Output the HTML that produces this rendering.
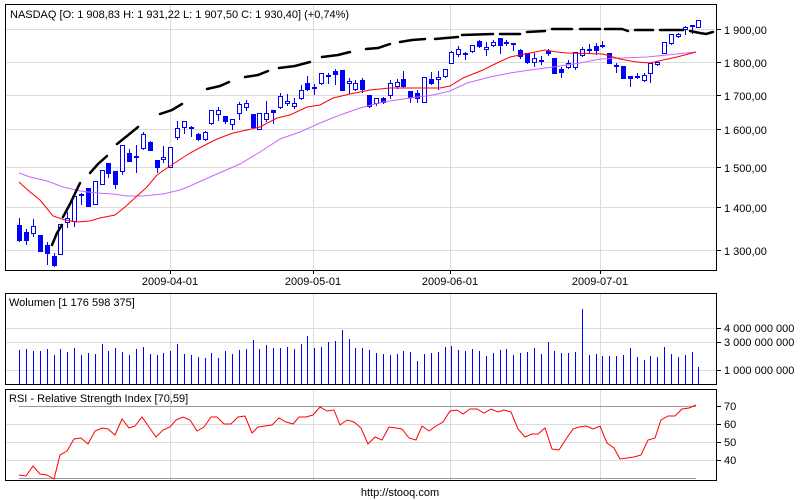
<!DOCTYPE html>
<html><head><meta charset="utf-8"><style>
html,body{margin:0;padding:0;background:#fff;}
svg{display:block;font-family:"Liberation Sans",Arial,sans-serif;font-size:11px;}
</style></head><body>
<svg id="s" width="800" height="500" xmlns="http://www.w3.org/2000/svg" shape-rendering="crispEdges">
<rect width="800" height="500" fill="#fff"/>
<g stroke="#dcdcdc" stroke-width="1">
<line x1="6" y1="29.5" x2="717" y2="29.5"/><line x1="6" y1="62.5" x2="717" y2="62.5"/>
<line x1="6" y1="95.5" x2="717" y2="95.5"/><line x1="6" y1="129.5" x2="717" y2="129.5"/>
<line x1="6" y1="167.5" x2="717" y2="167.5"/><line x1="6" y1="207.5" x2="717" y2="207.5"/>
<line x1="6" y1="250.5" x2="717" y2="250.5"/>
<line x1="170.5" y1="4" x2="170.5" y2="270"/><line x1="313.5" y1="4" x2="313.5" y2="270"/>
<line x1="450.5" y1="4" x2="450.5" y2="270"/><line x1="600.5" y1="4" x2="600.5" y2="270"/>
<line x1="6" y1="328.5" x2="717" y2="328.5"/><line x1="6" y1="342.5" x2="717" y2="342.5"/><line x1="6" y1="370.5" x2="717" y2="370.5"/>
<line x1="170.5" y1="293" x2="170.5" y2="384"/><line x1="313.5" y1="293" x2="313.5" y2="384"/>
<line x1="450.5" y1="293" x2="450.5" y2="384"/><line x1="600.5" y1="293" x2="600.5" y2="384"/>
<line x1="6" y1="424.5" x2="717" y2="424.5"/><line x1="6" y1="442.5" x2="717" y2="442.5"/><line x1="6" y1="460.5" x2="717" y2="460.5"/>
<line x1="170.5" y1="390" x2="170.5" y2="480"/><line x1="313.5" y1="390" x2="313.5" y2="480"/>
<line x1="450.5" y1="390" x2="450.5" y2="480"/><line x1="600.5" y1="390" x2="600.5" y2="480"/>
</g>
<g stroke="#999" stroke-width="1"><line x1="19" y1="406.5" x2="696" y2="406.5"/><line x1="19" y1="478.5" x2="696" y2="478.5"/></g>
<g id="cand"></g>
<polyline fill="none" stroke="#cc66ff" stroke-width="1" shape-rendering="auto" points="19,173 30,177 47,181 63,187 80,191 97,193 113,194 127,196 143,196 163,194 180,190 190,186 210,177 240,164 260,152 280,139 300,132 320,123 340,115 360,108 383,102 410,98 433,95 450,91 467,83 490,77 510,73 530,70 553,67 580,63 600,59 620,58 647,57 667,55 696,52"/>
<polyline fill="none" stroke="#ff0000" stroke-width="1" shape-rendering="auto" points="19,182 30,192 40,200 53,216 65,220 77,222 90,221 100,218 115,215 125,207 137,196 147,187 157,175 170,166 190,153 205,145 217,139 233,133 247,130 260,127 277,118 290,115 307,107 320,105 333,98 350,94 360,92 370,90 390,88 417,88 440,88 450,86 463,78 483,70 497,63 510,57 530,53 545,50 557,52 567,53 603,54 620,59 637,62 650,63 663,60 677,57 696,52"/>
<g fill="none" stroke="#000" stroke-width="2.5" stroke-linecap="round" shape-rendering="auto">
<polyline points="52,245 57,233 62,225"/><polyline points="63,217 70,204 80,183"/>
<polyline points="90,173 98,164 107,156"/><polyline points="117,144 127,136 138,127"/>
<polyline points="160,114 172,110 182,104"/><polyline points="207,89 220,86 229,82"/>
<polyline points="245,77 258,75 268,71"/><polyline points="279,68 295,66 310,62"/>
<polyline points="322,57 338,55 350,52"/><polyline points="366,49 378,48 390,44"/>
<polyline points="400,42 412,40 425,39"/><polyline points="435,39 446,38 458,37"/>
<polyline points="462,35 493,34"/><polyline points="500,34 520,34"/>
<polyline points="527,32 545,31"/><polyline points="552,29 572,29"/>
<polyline points="580,29 600,29"/><polyline points="605,29 622,29 628,31"/>
<polyline points="635,30 653,30"/><polyline points="660,30 683,30"/>
<polyline points="690,31 700,33 706,34 713,32"/>
</g>
<g id="vol" stroke="#0000ff" stroke-width="1"></g>
<polyline fill="none" stroke="#ff0000" stroke-width="1" shape-rendering="auto" points="19,475 26,476 33,466 40,474 47,475 54,479 60,455 67,451 74,439 81,438 88,444 95,431 102,428 108,429 115,435 122,419 129,428 135,426 142,417 149,427 156,437 163,430 170,427 176,420 183,417 190,420 197,431 204,427 211,417 217,417 224,424 231,424 238,417 245,416 252,433 258,427 265,426 272,425 279,418 286,422 293,424 299,417 306,417 313,415 320,407 327,411 334,410 340,425 347,420 354,422 361,428 368,444 375,437 382,440 389,427 396,428 402,429 409,438 416,440 422,426 429,431 436,426 443,422 450,411 457,410 463,414 470,409 477,409 484,413 491,409 498,412 504,410 511,412 518,429 525,437 532,434 538,434 545,428 552,449 559,450 566,439 573,429 579,427 586,426 593,429 600,426 607,443 614,448 620,459 627,458 634,457 641,455 648,440 655,438 661,420 668,416 675,416 682,409 689,408 696,405"/>
<g fill="none" stroke="#000" stroke-width="1">
<rect x="5.5" y="4.5" width="711" height="266"/>
<rect x="5.5" y="293.5" width="711" height="91"/>
<rect x="5.5" y="389.5" width="711" height="91"/>
<line x1="717" y1="29.5" x2="721" y2="29.5"/><line x1="717" y1="62.5" x2="721" y2="62.5"/><line x1="717" y1="95.5" x2="721" y2="95.5"/><line x1="717" y1="129.5" x2="721" y2="129.5"/><line x1="717" y1="167.5" x2="721" y2="167.5"/><line x1="717" y1="207.5" x2="721" y2="207.5"/><line x1="717" y1="250.5" x2="721" y2="250.5"/>
<line x1="170.5" y1="270" x2="170.5" y2="274"/><line x1="313.5" y1="270" x2="313.5" y2="274"/><line x1="450.5" y1="270" x2="450.5" y2="274"/><line x1="600.5" y1="270" x2="600.5" y2="274"/>
<line x1="717" y1="328.5" x2="721" y2="328.5"/><line x1="717" y1="342.5" x2="721" y2="342.5"/><line x1="717" y1="370.5" x2="721" y2="370.5"/>
<line x1="717" y1="406.5" x2="721" y2="406.5"/><line x1="717" y1="424.5" x2="721" y2="424.5"/><line x1="717" y1="442.5" x2="721" y2="442.5"/><line x1="717" y1="460.5" x2="721" y2="460.5"/>
</g>
<g fill="#000">
<text x="10" y="18">NASDAQ [O: 1 908,83  H: 1 931,22  L: 1 907,50  C: 1 930,40] (+0,74%)</text>
<text x="724" y="34">1 900,00</text><text x="724" y="67">1 800,00</text><text x="724" y="100">1 700,00</text>
<text x="724" y="134">1 600,00</text><text x="724" y="172">1 500,00</text><text x="724" y="212">1 400,00</text><text x="724" y="255">1 300,00</text>
<text x="170" y="285" text-anchor="middle">2009-04-01</text><text x="313" y="285" text-anchor="middle">2009-05-01</text>
<text x="450" y="285" text-anchor="middle">2009-06-01</text><text x="600" y="285" text-anchor="middle">2009-07-01</text>
<text x="9" y="306">Wolumen [1 176 598 375]</text>
<text x="724" y="332">4 000 000 000</text><text x="724" y="346">3 000 000 000</text><text x="724" y="374">1 000 000 000</text>
<text x="9" y="402">RSI - Relative Strength Index [70,59]</text>
<text x="724" y="410">70</text><text x="724" y="428">60</text><text x="724" y="446">50</text><text x="724" y="464">40</text>
<text x="400" y="496" text-anchor="middle">http://stooq.com</text>
</g>
</svg>
<script>
var C=[[225,240,218,241,1],[232,240,229,244,1],[226,233,219,236,0],[235,251,235,251,1],[245,253,242,264,1],[256,265,253,266,1],[224,254,224,254,0],[218,222,212,227,0],[196,221,193,226,0],[194,195,193,204,0],[188,206,188,206,1],[181,204,181,204,0],[170,184,170,184,0],[163,173,163,177,1],[171,184,171,188,1],[145,171,145,174,0],[153,161,149,161,1],[156,157,145,172,1],[134,148,132,149,0],[142,150,141,150,1],[160,167,160,172,1],[157,159,146,162,0],[147,167,147,167,0],[128,137,121,139,0],[121,127,121,133,0],[127,128,126,136,1],[134,139,133,140,1],[132,139,131,140,0],[110,123,110,124,0],[110,114,107,120,0],[116,121,116,123,1],[119,124,119,129,0],[104,113,102,119,0],[103,107,100,110,0],[114,127,114,128,1],[113,129,113,129,0],[113,119,101,121,0],[110,112,110,123,1],[96,107,93,108,0],[101,103,94,105,0],[103,106,98,108,0],[90,98,85,99,0],[83,89,76,90,1],[87,88,84,94,1],[73,83,73,84,0],[75,76,73,83,1],[71,74,69,84,1],[70,90,70,90,1],[81,83,78,93,0],[83,89,80,90,0],[80,89,78,92,1],[95,106,95,107,1],[98,103,98,105,0],[98,102,97,103,1],[83,95,80,98,0],[82,86,79,88,0],[79,86,71,87,1],[91,97,91,102,1],[93,98,90,102,1],[77,102,77,102,0],[79,83,72,84,1],[77,79,71,89,0],[69,76,69,77,0],[52,63,51,63,0],[49,54,46,56,0],[53,54,52,59,1],[45,51,45,52,0],[41,46,40,47,1],[47,49,42,55,0],[42,45,40,46,0],[38,45,38,53,1],[42,43,40,45,0],[43,44,43,50,0],[50,56,49,58,1],[53,62,53,63,1],[58,62,53,66,0],[60,61,56,64,1],[51,53,49,55,1],[58,73,58,73,1],[69,72,67,77,1],[63,67,60,68,0],[52,67,52,69,0],[49,55,47,56,0],[49,50,44,53,1],[46,50,43,54,1],[45,46,41,47,1],[53,63,53,63,1],[65,66,63,72,1],[66,78,66,78,1],[76,78,76,86,1],[76,77,73,78,1],[75,80,73,81,0],[63,73,63,82,0],[62,64,61,65,0],[42,53,42,53,0],[34,43,34,44,0],[34,36,33,37,0],[27,29,26,34,0],[25,26,25,33,0],[20,27,20,27,0]];
var V1=[270,267,273,273,267,285,267,276,264,285,279,282,252,273,264,276,285,267,261,282,285,279,273,252,282,285,291,294,279,294,273,282,270,267,240,267,255,264,264,261,267,252,228,264,261,246,243,210,237,264,264,270,279,282,285,282,273,276,303,282,279,276,261,258,270,273,267,273,288,279,270,267,285,279,276,264,282,246,273,279,279,276,147,285,282,288,288,288,285,264,291,300,288,291,261,282,291,285,276,321];
var ns="http://www.w3.org/2000/svg",g=document.getElementById("cand"),v=document.getElementById("vol"),h="";
for(var i=0;i<C.length;i++){var c=C[i],x=Math.round(19.3+i*6.86);
h+='<line x1="'+(x+0.5)+'" y1="'+c[2]+'" x2="'+(x+0.5)+'" y2="'+(c[3]+1)+'" stroke="#0000ff"/>';
var hh=Math.max(1,c[1]-c[0]);
if(c[4]) h+='<rect x="'+(x-2)+'" y="'+c[0]+'" width="5" height="'+(hh+1)+'" fill="#0000ff"/>';
else h+='<rect x="'+(x-1.5)+'" y="'+(c[0]+0.5)+'" width="4" height="'+hh+'" fill="#fff" stroke="#0000ff"/>';}
g.innerHTML=h;h="";
for(var i=0;i<V1.length;i++){var x=Math.round(19.3+i*6.86)+0.5;h+='<line x1="'+x+'" y1="'+(V1[i]/3+260).toFixed(0)+'" x2="'+x+'" y2="384"/>';}
v.innerHTML=h;
</script>
</body></html>
